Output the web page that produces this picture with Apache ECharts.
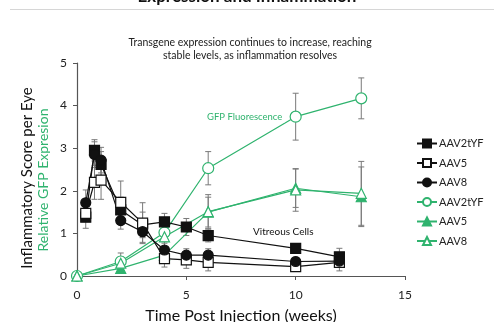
<!DOCTYPE html>
<html>
<head>
<meta charset="utf-8">
<script src="https://cdn.jsdelivr.net/npm/echarts@6/dist/echarts.min.js"></script>
<style>
  html, body { margin: 0; padding: 0; background: #fff; }
  #chart { width: 494px; height: 322px; }
</style>
</head>
<body>
<div id="chart"></div>
<script>
// inflammation (black) series, weeks
const weeksInfl = [0.4, 0.8, 1.1, 2, 3, 4, 5, 6, 10, 12]
const inflAAV2tYF = [1.38, 2.95, 2.62, 1.55, 1.2, 1.27, 1.15, 0.95, 0.65, 0.45]
const inflAAV5 = [1.47, 2.2, 2.25, 1.73, 1.24, 0.41, 0.38, 0.32, 0.22, 0.32]
const inflAAV8 = [1.72, 2.85, 2.72, 1.3, 1.04, 0.61, 0.49, 0.49, 0.34, 0.35]
const errInflAAV2tYF = [0.1, 0.25, 0.3, 0.3, 0.3, 0.2, 0.2, 0.15, 0.1, 0.2]
const errInflAAV5 = [0.35, 0.4, 0.45, 0.5, 0.48, 0.2, 0.2, 0.2, 0.1, 0.2]
const errInflAAV8 = [0.3, 0.3, 0.3, 0.2, 0.25, 0.2, 0.15, 0.15, 0.1, 0.15]

// GFP (green) series
const weeksGfp = [0, 2, 4, 6, 10, 13]
const gfpAAV2tYF = [0, 0.34, 1.02, 2.53, 3.74, 4.17]
const gfpAAV5 = [0, 0.18, 0.49, 1.5, 2.06, 1.86]
const gfpAAV8 = [0, 0.3, 0.92, 1.51, 2.02, 1.94]
const errGfpAAV2tYF = [0, 0.2, 0.15, 0.39, 0.55, 0.48]
const errGfpAAV5 = [0, 0.1, 0.15, 0.35, 0.45, 0.7]
const errGfpAAV8 = [0, 0.15, 0.15, 0.4, 0.5, 0.75]

const xTicks = [0, 5, 10, 15]
const yTicks = [0, 1, 2, 3, 4, 5]

const GREEN = '#2fb36e'
const FONT = 'Lato'

const pairs = (xs, ys) => xs.map((x, i) => [x, ys[i]])
const errData = (xs, ys, es) => xs.map((x, i) => [x, ys[i] - es[i], ys[i] + es[i]])

function errorBars(data) {
  return {
    type: 'custom',
    silent: true,
    z: 1,
    data: data,
    renderItem(params, api) {
      const lo = api.coord([api.value(0), api.value(1)])
      const hi = api.coord([api.value(0), api.value(2)])
      const w = 3
      const style = { stroke: '#7a7a7a', lineWidth: 1 }
      return {
        type: 'group',
        children: [
          { type: 'line', shape: { x1: hi[0], y1: hi[1], x2: lo[0], y2: lo[1] }, style },
          { type: 'line', shape: { x1: hi[0] - w, y1: hi[1], x2: hi[0] + w, y2: hi[1] }, style },
          { type: 'line', shape: { x1: lo[0] - w, y1: lo[1], x2: lo[0] + w, y2: lo[1] }, style }
        ]
      }
    }
  }
}

function lineSeries(name, xs, ys, opts) {
  return {
    name: name,
    type: 'line',
    data: pairs(xs, ys),
    symbol: opts.symbol,
    symbolSize: opts.size,
    z: opts.z || 3,
    lineStyle: { color: opts.color, width: opts.lineWidth || 1.2 },
    itemStyle: { color: opts.fill, borderColor: opts.color, borderWidth: opts.borderWidth || 1.2 },
    emphasis: { disabled: true }
  }
}

const chart = echarts.init(document.getElementById('chart'))

chart.setOption({
  animation: false,
  textStyle: { fontFamily: FONT },
  grid: { left: 77, right: 89, top: 63, bottom: 46, containLabel: false, outerBoundsMode: 'none' },
  graphic: [
    {
      type: 'text', left: 'center', top: -12,
      style: { text: 'Expression and Inflammation', font: 'bold 17px ' + FONT, fill: '#111' }
    },
    {
      type: 'line', shape: { x1: 10, y1: 9.5, x2: 494, y2: 9.5 },
      style: { stroke: '#d6d6d6', lineWidth: 1 }
    },
    {
      type: 'text', x: 250, y: 36,
      style: {
        text: 'Transgene expression continues to increase, reaching\nstable levels, as inflammation resolves',
        font: '10.5px ' + FONT, fill: '#222', align: 'center', lineHeight: 13
      }
    },
    {
      type: 'text', x: 205, y: 111, z: 10,
      style: {
        text: 'GFP Fluorescence', font: '9.5px ' + FONT, fill: GREEN,
        backgroundColor: '#fff', padding: [1, 2]
      }
    },
    {
      type: 'text', x: 253, y: 227, z: 10,
      style: { text: 'Vitreous Cells', font: '10px ' + FONT, fill: '#111' }
    },
    {
      type: 'text', x: 27, y: 178, rotation: Math.PI / 2, z: 10,
      style: { text: 'Inflammatory Score per Eye', font: '15px ' + FONT, fill: '#111', align: 'center', verticalAlign: 'middle' }
    },
    {
      type: 'text', x: 43, y: 180, rotation: Math.PI / 2, z: 10,
      style: { text: 'Relative GFP Expresion', font: '14px ' + FONT, fill: GREEN, align: 'center', verticalAlign: 'middle' }
    }
  ],
  legend: {
    orient: 'vertical',
    left: 411,
    top: 133,
    itemGap: 8.5,
    itemWidth: 20,
    itemHeight: 10,
    formatter: name => name.trim(),
    textStyle: { fontSize: 11, color: '#222', fontFamily: FONT, padding: [0, 0, 0, -3] },
    data: ['AAV2tYF', 'AAV5', 'AAV8', 'AAV2tYF ', 'AAV5 ', 'AAV8 ']
  },
  xAxis: {
    type: 'value',
    min: xTicks[0],
    max: xTicks[xTicks.length - 1],
    interval: 5,
    name: 'Time Post Injection (weeks)',
    nameLocation: 'middle',
    nameGap: 32,
    nameTextStyle: { fontSize: 16, color: '#111', fontFamily: FONT },
    axisLine: { lineStyle: { color: '#555', width: 1.2 } },
    axisTick: { show: true, length: 4, lineStyle: { color: '#555' } },
    axisLabel: { fontSize: 12, color: '#222', margin: 13 },
    splitLine: { show: false }
  },
  yAxis: {
    type: 'value',
    min: yTicks[0],
    max: yTicks[yTicks.length - 1],
    interval: 1,
    axisLine: { show: true, lineStyle: { color: '#555', width: 1.2 } },
    axisTick: { show: true, length: 4, lineStyle: { color: '#555' } },
    axisLabel: { fontSize: 12, color: '#222', margin: 10 },
    splitLine: { show: false }
  },
  series: [
    errorBars(errData(weeksInfl, inflAAV2tYF, errInflAAV2tYF)),
    errorBars(errData(weeksInfl, inflAAV5, errInflAAV5)),
    errorBars(errData(weeksInfl, inflAAV8, errInflAAV8)),
    errorBars(errData(weeksGfp, gfpAAV2tYF, errGfpAAV2tYF)),
    errorBars(errData(weeksGfp, gfpAAV5, errGfpAAV5)),
    errorBars(errData(weeksGfp, gfpAAV8, errGfpAAV8)),
    lineSeries('AAV2tYF ', weeksGfp, gfpAAV2tYF, { symbol: 'circle', size: 11, color: GREEN, fill: '#fff', z: 4 }),
    lineSeries('AAV5 ', weeksGfp, gfpAAV5, { symbol: 'triangle', size: 10, color: GREEN, fill: GREEN, z: 4 }),
    lineSeries('AAV8 ', weeksGfp, gfpAAV8, { symbol: 'triangle', size: 10, color: GREEN, fill: '#fff', z: 4 }),
    lineSeries('AAV2tYF', weeksInfl, inflAAV2tYF, { symbol: 'rect', size: 10, color: '#111', fill: '#111', z: 5 }),
    lineSeries('AAV5', weeksInfl, inflAAV5, { symbol: 'rect', size: 10, color: '#111', fill: '#fff', z: 5 }),
    lineSeries('AAV8', weeksInfl, inflAAV8, { symbol: 'circle', size: 10, color: '#111', fill: '#111', z: 5 })
  ]
})
</script>
</body>
</html>
